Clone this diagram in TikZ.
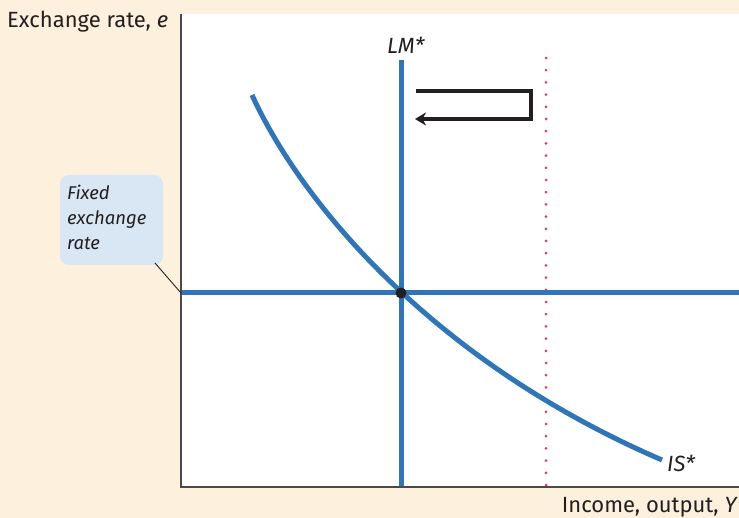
\documentclass[tikz,border=0pt]{standalone}
\usepackage{fontspec}
\setmainfont{Fira Sans}
\usetikzlibrary{arrows.meta}
\definecolor{cream}{HTML}{FDF0DC}
\definecolor{curveblue}{HTML}{2F75BA}
\definecolor{boxblue}{HTML}{D9E6F3}
\definecolor{axisgray}{HTML}{4A4A4A}
\definecolor{dotred}{HTML}{E8336B}
\definecolor{txt}{HTML}{231F20}
\begin{document}
\begin{tikzpicture}[x=1pt,y=-1pt,
  curve/.style={draw=curveblue,line width=5pt},
  lbl/.style={font=\fontsize{22}{25}\selectfont,text=txt,inner sep=0pt},
  axisline/.style={draw=axisgray,line width=1.5pt}]
\useasboundingbox (0,0) rectangle (739,518);
\fill[cream] (0,0) rectangle (739,518);
\fill[white] (181,14) rectangle (739,487);
% coordinates
\coordinate (o) at (181,487);
\coordinate (ytop) at (181,14);
\coordinate (xend) at (739,487);
\coordinate (lmtop) at (401,60);
\coordinate (lmbot) at (401,487);
\coordinate (hl) at (181,293);
\coordinate (hr) at (739,293);
\coordinate (istart) at (252,95);
\coordinate (iend) at (662,460);
\coordinate (dtop) at (546,58);
\coordinate (dbot) at (546,492);
% dotted line
\draw[dotred,line width=3pt,line cap=round,dash pattern=on 0pt off 12.2pt] (dtop) -- (dbot);
% curves
\draw[curve] (hl) -- (hr);
\draw[curve] (lmtop) -- (lmbot);
\draw[curve] (istart) .. controls (300,200) and (430,360) .. (iend);
\fill[txt] (401,293) circle (5.5pt) node (eq) {};
% axes
\draw[axisline] (ytop) -- (o) -- (xend);
% arrow
\coordinate (a1) at (416,91);
\coordinate (a2) at (531,91);
\coordinate (a3) at (531,119);
\coordinate (a4) at (415,119);
\draw[txt,line width=4pt,-{Stealth[length=11pt,width=13pt]}] (a1) -- (a2) -- (a3) -- (a4);
% labels
\node[lbl,anchor=west] (ylab) at (7,22) {Exchange rate, \textit{e}};
\node[lbl,anchor=east] (xlab) at (738,507) {Income, output, \textit{Y}};
\node[lbl,anchor=south] (lm) at (406,54) {\textit{LM*}};
\node[lbl,anchor=west] (is) at (667,464) {\textit{IS*}};
\node[fill=boxblue,rounded corners=9pt,minimum width=103pt,minimum height=90pt,inner sep=0pt] (box) at (111.5,220) {};
\node[lbl,anchor=north west,align=left,font=\fontsize{18.5}{25}\selectfont\itshape] (boxt) at (67,185) {Fixed\\exchange\\rate};
\draw[txt,line width=0.9pt] (155,263) -- (hl);
\end{tikzpicture}
\end{document}
